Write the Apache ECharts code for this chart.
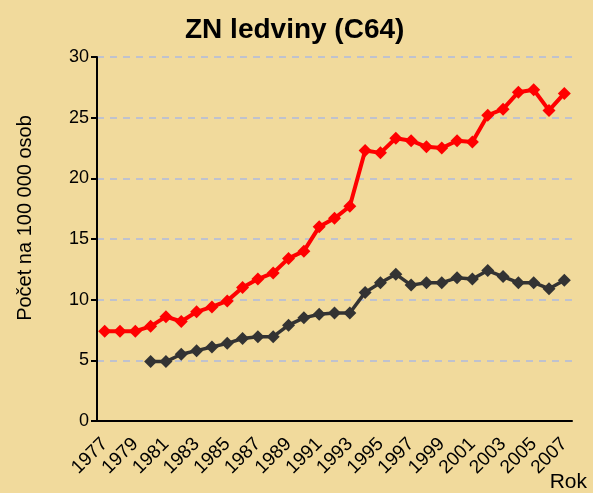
<!DOCTYPE html>
<html>
<head>
<meta charset="utf-8">
<script src="https://cdn.jsdelivr.net/npm/echarts@6/dist/echarts.min.js"></script>
<style>
  html, body { margin: 0; padding: 0; background: #F1DA9C; }
  #chart { width: 593px; height: 493px; }
</style>
</head>
<body>
<div id="chart"></div>
<script>
// years 1977 - 2007
var years = ['1977', '1978', '1979', '1980', '1981', '1982', '1983', '1984', '1985', '1986',
  '1987', '1988', '1989', '1990', '1991', '1992', '1993', '1994', '1995', '1996',
  '1997', '1998', '1999', '2000', '2001', '2002', '2003', '2004', '2005', '2006', '2007']
var redValues = [7.4, 7.4, 7.4, 7.8, 8.6, 8.2, 9.0, 9.4, 9.9, 11.0,
  11.7, 12.2, 13.4, 14.0, 16.0, 16.7, 17.7, 22.3, 22.1, 23.3,
  23.1, 22.6, 22.5, 23.1, 23.0, 25.2, 25.7, 27.1, 27.3, 25.6, 27.0]
var darkValues = [null, null, null, 4.9, 4.9, 5.5, 5.8, 6.1, 6.4, 6.8,
  6.95, 6.95, 7.9, 8.5, 8.8, 8.9, 8.9, 10.6, 11.4, 12.1,
  11.2, 11.4, 11.4, 11.8, 11.7, 12.4, 11.9, 11.4, 11.4, 10.9, 11.6]
var yTicks = { min: 0, max: 30, interval: 5 }

var chart = echarts.init(document.getElementById('chart'))
var font = 'Liberation Sans, Arial, sans-serif'

chart.setOption({
  backgroundColor: '#F1DA9C',
  animation: false,
  title: {
    text: 'ZN ledviny (C64)',
    left: 180,
    top: 11,
    textStyle: { fontFamily: font, fontSize: 28, fontWeight: 'bold', color: '#000' }
  },
  grid: { left: 97, right: 21, top: 57, bottom: 72, outerBoundsMode: 'none' },
  xAxis: {
    type: 'category',
    data: years,
    boundaryGap: true,
    name: 'Rok',
    nameLocation: 'end',
    nameGap: 0,
    nameTextStyle: {
      fontFamily: font, fontSize: 21, color: '#000',
      align: 'center', verticalAlign: 'top', padding: [51, 12, 0, 0]
    },
    axisLine: { lineStyle: { color: '#000', width: 2 } },
    axisTick: { interval: 0, length: 5, lineStyle: { color: '#000', width: 2 } },
    axisLabel: {
      interval: 1,
      rotate: 45,
      margin: 20,
      fontFamily: font,
      fontSize: 19,
      color: '#000'
    },
    splitLine: { show: false }
  },
  yAxis: {
    type: 'value',
    min: yTicks.min,
    max: yTicks.max,
    interval: yTicks.interval,
    name: 'Počet na 100 000 osob',
    nameLocation: 'middle',
    nameGap: 62,
    nameTextStyle: {
      fontFamily: font, fontSize: 20, color: '#000',
      padding: [0, 0, 0, 42]
    },
    axisLine: { show: true, lineStyle: { color: '#000', width: 2 } },
    axisTick: { show: true, length: 6, lineStyle: { color: '#000', width: 2 } },
    axisLabel: { margin: 8, fontFamily: font, fontSize: 18, color: '#000' },
    splitLine: {
      show: true,
      lineStyle: { color: '#BFC2CE', width: 2, type: [7, 6] }
    }
  },
  series: [
    {
      name: 'red',
      type: 'line',
      data: redValues,
      showAllSymbol: true,
      symbol: 'diamond',
      symbolSize: 13,
      itemStyle: { color: '#FF0000' },
      lineStyle: { color: '#FF0000', width: 4 }
    },
    {
      name: 'dark',
      type: 'line',
      data: darkValues,
      showAllSymbol: true,
      symbol: 'diamond',
      symbolSize: 13,
      itemStyle: { color: '#333333' },
      lineStyle: { color: '#333333', width: 3.5 }
    }
  ]
})
</script>
</body>
</html>
